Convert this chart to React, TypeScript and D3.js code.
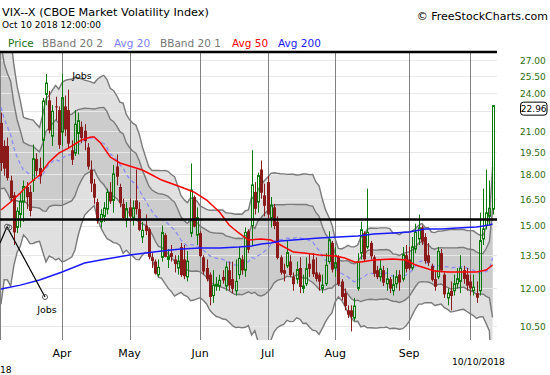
import React from 'react';
import * as d3 from 'd3';

// sessions shown: Mar 5 2018 .. Oct 10 2018 (US market holidays skipped)
const holidays = ['2018-03-30', '2018-05-28', '2018-07-04', '2018-09-03'];

// closes of the 19 sessions before the first visible candle (Feb 5 .. Mar 2), feed the 20-day bands
const priorCloses = [
  37.32, 29.98, 27.73, 33.46, 29.06, 25.61, 24.97, 19.26, 19.13, 19.46,
  20.6, 20.02, 18.72, 16.49, 15.8, 18.59, 19.85, 22.47, 19.59,
];

// [open, high, low, close]
const ohlc: [number, number, number, number][] = [
  // March
  [21.6, 22.4, 18.2, 18.73], [19.9, 20.3, 17.9, 18.36], [19.9, 20.5, 17.6, 17.76], [17.6, 17.9, 16.3, 16.54],
  [16.7, 16.9, 14.0, 14.64], [14.9, 16.0, 14.6, 15.78], [15.6, 16.9, 14.9, 16.35], [16.3, 17.6, 15.2, 17.23],
  [17.2, 17.5, 15.9, 16.59], [16.9, 17.3, 15.5, 15.8], [17.6, 20.0, 16.9, 19.02], [19.0, 19.4, 17.9, 18.2],
  [18.4, 19.1, 17.4, 17.86], [20.3, 23.6, 18.2, 23.34], [23.9, 25.7, 23.0, 24.87], [23.4, 24.2, 20.8, 21.03],
  [20.6, 23.0, 19.9, 22.5], [22.9, 23.7, 21.8, 22.87], [22.6, 22.9, 19.7, 19.97],
  // April
  [20.9, 25.7, 19.9, 23.62], [22.9, 23.8, 20.6, 21.1], [22.6, 24.3, 19.7, 20.06], [19.6, 20.3, 18.6, 18.94],
  [19.4, 22.6, 19.2, 21.49], [20.8, 22.4, 19.3, 21.77], [21.3, 21.7, 20.1, 20.47], [21.0, 21.5, 19.6, 20.24],
  [19.8, 20.1, 18.3, 18.49], [18.3, 18.9, 16.9, 17.41], [17.4, 17.7, 16.2, 16.56], [16.3, 16.5, 15.1, 15.25],
  [15.2, 15.9, 14.9, 15.6], [15.5, 16.3, 15.2, 15.96], [15.9, 17.1, 15.6, 16.88], [16.9, 17.5, 16.2, 16.34],
  [16.4, 18.6, 15.7, 18.02], [18.5, 19.3, 17.3, 17.84], [17.2, 17.4, 16.0, 16.24], [16.2, 16.5, 15.3, 15.41],
  [15.3, 16.3, 14.9, 15.93],
  // May
  [16.0, 16.5, 15.2, 15.49], [15.4, 16.4, 15.0, 15.97], [16.4, 18.3, 15.6, 15.9], [15.9, 16.3, 14.7, 14.77],
  [14.4, 15.2, 14.1, 14.75], [15.0, 15.6, 14.5, 14.71], [14.8, 14.9, 13.3, 13.42], [13.4, 13.6, 12.9, 13.23],
  [13.2, 13.3, 12.6, 12.65], [12.6, 13.3, 12.5, 12.93], [13.4, 15.0, 13.2, 14.63], [14.5, 14.6, 13.4, 13.42],
  [13.3, 13.8, 12.9, 13.43], [13.6, 14.0, 13.2, 13.42], [13.3, 13.5, 12.7, 13.08], [12.9, 13.5, 12.6, 13.22],
  [13.9, 14.1, 12.5, 12.58], [13.3, 14.0, 12.4, 12.53], [12.5, 13.7, 12.3, 13.22], [14.6, 18.7, 14.4, 17.02],
  [16.6, 16.7, 14.9, 14.94], [14.5, 16.0, 14.0, 15.43],
  // June
  [14.6, 14.7, 13.4, 13.46], [13.4, 13.5, 12.6, 12.74], [12.9, 13.3, 12.3, 12.4], [12.6, 12.7, 11.3, 11.64],
  [11.7, 12.8, 11.4, 12.13], [12.1, 12.5, 11.9, 12.18], [12.1, 12.6, 11.9, 12.35], [12.5, 12.8, 12.2, 12.34],
  [12.1, 13.2, 11.9, 12.94], [12.8, 13.2, 11.9, 12.12], [12.4, 13.2, 11.8, 11.98], [11.9, 13.3, 11.7, 12.31],
  [12.6, 13.9, 12.4, 13.35], [13.3, 13.5, 12.6, 12.79], [12.8, 14.9, 12.5, 14.64], [14.7, 14.8, 13.6, 13.77],
  [15.0, 19.6, 14.0, 17.33], [16.9, 17.5, 15.6, 15.92], [16.3, 18.1, 15.7, 17.91], [18.3, 18.9, 16.5, 16.85],
  [16.7, 17.4, 15.5, 16.09],
  // July
  [17.5, 17.9, 15.4, 15.6], [15.4, 16.6, 14.9, 16.14], [16.0, 16.2, 14.8, 14.97], [15.2, 15.5, 13.3, 13.37],
  [13.4, 13.5, 12.6, 12.69], [12.8, 13.1, 12.3, 12.64], [13.0, 14.2, 12.9, 13.63], [13.2, 13.5, 12.5, 12.58],
  [12.5, 12.7, 11.9, 12.18], [12.4, 13.2, 12.2, 12.83], [12.9, 13.4, 11.8, 12.06], [12.0, 12.6, 11.8, 12.1],
  [12.2, 13.4, 12.1, 12.87], [13.1, 13.6, 12.5, 12.86], [13.3, 13.6, 12.5, 12.62], [12.7, 13.4, 12.3, 12.41],
  [12.6, 12.7, 11.9, 12.29], [12.0, 12.6, 11.8, 12.14], [12.2, 13.6, 12.1, 13.03], [13.2, 14.7, 13.1, 14.26],
  [14.1, 14.2, 12.7, 12.83],
  // August
  [12.9, 13.9, 12.5, 13.15], [13.4, 13.5, 12.1, 12.19], [12.3, 12.4, 11.5, 11.64], [11.8, 12.0, 11.1, 11.27],
  [11.1, 11.3, 10.8, 10.93], [11.1, 11.3, 10.3, 10.85], [10.8, 11.6, 10.7, 11.27], [12.0, 13.6, 11.9, 13.16],
  [13.6, 15.2, 13.3, 14.78], [14.6, 14.7, 13.2, 13.31], [13.9, 17.1, 13.8, 14.64], [14.1, 14.2, 13.3, 13.45],
  [13.4, 13.5, 12.5, 12.64], [12.8, 13.0, 12.4, 12.49], [12.5, 13.3, 12.3, 12.86], [12.8, 13.0, 12.1, 12.25],
  [12.2, 12.9, 11.9, 12.41], [12.4, 12.5, 11.8, 11.99], [11.9, 12.6, 11.7, 12.16], [12.2, 12.8, 12.0, 12.5],
  [12.6, 12.8, 11.9, 12.25], [12.4, 13.9, 12.3, 13.53], [13.5, 14.0, 12.7, 12.86],
  // September
  [13.3, 13.9, 12.8, 12.88], [12.9, 14.4, 12.8, 13.91], [13.8, 15.1, 13.6, 14.65], [14.3, 15.6, 14.0, 14.88],
  [14.9, 15.0, 14.0, 14.16], [14.4, 14.6, 13.1, 13.22], [13.5, 14.1, 13.0, 13.14], [13.0, 13.1, 12.3, 12.37],
  [12.4, 12.8, 11.9, 12.07], [12.5, 13.9, 12.4, 13.68], [13.6, 13.8, 12.7, 12.79], [12.6, 12.7, 11.6, 11.75],
  [11.6, 12.0, 11.3, 11.8], [11.9, 12.3, 11.1, 11.68], [11.9, 12.6, 11.7, 12.2], [12.2, 12.9, 12.0, 12.42],
  [12.3, 13.5, 11.8, 12.89], [12.8, 13.0, 12.2, 12.41], [12.6, 12.9, 11.9, 12.12],
  // October
  [12.3, 12.6, 11.7, 12.0], [11.9, 12.6, 11.7, 12.05], [11.8, 12.3, 11.4, 11.61], [11.9, 15.7, 11.7, 14.22],
  [14.3, 17.1, 14.0, 14.82], [15.0, 18.3, 14.8, 15.69], [15.5, 17.6, 15.0, 15.95], [15.9, 23.0, 15.6, 22.96],
];

// 50-day and 200-day averages: [session index, value]
const avg50: [number, number][] = [
  [0, 15.85], [3, 16.31], [6, 16.84], [9, 17.45], [12, 17.95], [15, 18.8], [18, 19.4], [21, 19.75],
  [25, 20.32], [28, 20.54], [29, 20.54], [31, 20.11], [34, 19.13], [37, 18.73], [41, 18.47], [44, 18.27],
  [47, 17.95], [50, 17.63], [56, 17.2], [60, 16.9], [64, 16.42], [68, 15.74], [71, 15.03], [74, 14.61],
  [77, 14.25], [81, 14.3], [84, 14.25], [87, 14.0], [91, 13.65], [95, 13.6], [99, 13.51], [104, 13.46],
  [107, 13.37], [110, 13.18], [112, 13.18], [116, 13.27], [122, 13.32], [126, 13.27], [129, 13.04],
  [132, 12.9], [135, 12.76], [139, 12.72], [144, 12.72], [148, 12.72], [151, 12.81], [153, 13.04],
];
const avg200: [number, number][] = [
  [0, 11.97], [6, 12.14], [12, 12.36], [19, 12.72], [26, 13.13], [31, 13.27], [40, 13.51], [50, 13.7],
  [56, 13.8], [62, 13.85], [68, 13.85], [74, 13.9], [78, 13.95], [81, 14.05], [84, 14.1], [87, 14.2],
  [91, 14.25], [95, 14.3], [99, 14.35], [105, 14.4], [111, 14.45], [116, 14.56], [122, 14.61],
  [127, 14.66], [132, 14.82], [137, 14.82], [142, 14.87], [148, 14.92], [152, 15.03], [153, 15.08],
];

const yTicks = [10.5, 12, 13.5, 15, 16.5, 18, 19.5, 21, 22.5, 24, 25.5, 27];
const trendLines = [27.78, 15.32];
const legend = ['Price', 'BBand 20 2', 'Avg 20', 'BBand 20 1', 'Avg 50', 'Avg 200'];

const GREEN = '#087a08';
const RED = '#8b1a1a';
const legendColors = ['#1a701a', '#777', '#8080ff', '#777', '#ff0000', '#1a1aff'];
const legendX = [8, 42, 114, 160, 232, 278];

const fmtDay = d3.timeFormat('%Y-%m-%d');

const App = () => {
  const sessions = d3.timeDay
    .range(new Date(2018, 2, 5), new Date(2018, 9, 11))
    .filter((d) => d.getDay() !== 0 && d.getDay() !== 6 && !holidays.includes(fmtDay(d)));
  const n = ohlc.length;

  const x = d3.scaleLinear().domain([0, n - 1]).range([1, 492.6]);
  const y = d3.scaleLog().domain([27, 10.5]).range([60, 326]);

  // 20 day bollinger bands
  const all = [...priorCloses, ...ohlc.map((d) => d[3])];
  const bands = ohlc.map((_, i) => {
    const end = i + priorCloses.length;
    const win = all.slice(end - 19, end + 1);
    const m = d3.mean(win) as number;
    const sd = Math.sqrt(d3.mean(win, (v) => (v - m) ** 2) as number);
    return { i, m, sd };
  });

  const area = (k: number) =>
    d3.area<any>().x((d) => x(d.i)).y0((d) => y(d.m - k * d.sd)).y1((d) => y(d.m + k * d.sd))(bands) as string;
  const bandLine = (k: number) =>
    d3.line<any>().x((d) => x(d.i)).y((d) => y(Math.max(d.m + k * d.sd, 5)))(bands) as string;
  const avgLine = d3.line<[number, number]>().x((d) => x(d[0])).y((d) => y(d[1]));

  const monthStarts = sessions
    .map((d, i) => ({ d, i }))
    .filter(({ d, i }) => i > 0 && d.getMonth() !== sessions[i - 1].getMonth());

  const last = ohlc[n - 1][3];

  // "Jobs" annotations, in chart coordinates (session index, price)
  const noteA = [x(1.87), y(14.94)];
  const noteB = [x(2.6), y(14.9)];
  const noteEnd = [x(13.7), y(11.64)];
  const noteTail = [x(-0.31), y(14.1)];

  return (
    <svg
      width={550}
      height={375}
      style={{ position: 'absolute', left: 0, top: 0, background: '#fff' }}
      fontFamily="DejaVu Sans"
    >
      <defs>
        <clipPath id="plot">
          <rect x={0} y={52} width={497} height={288} />
        </clipPath>
      </defs>

      <text x={2} y={16} fontSize={11.3} fill="#000">VIX--X (CBOE Market Volatility Index)</text>
      <text x={2} y={28} fontSize={9} fill="#000">Oct 10 2018 12:00:00</text>
      <text x={548} y={20} fontSize={11} textAnchor="end" fill="#000">© FreeStockCharts.com</text>
      {legend.map((t, k) => (
        <text key={t} x={legendX[k]} y={46.5} fontSize={10.5} fill={legendColors[k]}>{t}</text>
      ))}

      <g clipPath="url(#plot)">
        <path d={area(2)} fill="#e0e0e0" />
        <path d={area(1)} fill="#cccccc" />
        {yTicks.map((t) => (
          <line key={t} x1={0} x2={497} y1={Math.round(y(t)) + 0.5} y2={Math.round(y(t)) + 0.5} stroke="#e8e8e8" />
        ))}
        <line x1={0.5} x2={0.5} y1={52} y2={340} stroke="#808080" />
        {monthStarts.map(({ i }) => (
          <line key={i} x1={Math.round(x(i)) + 0.5} x2={Math.round(x(i)) + 0.5} y1={52} y2={340} stroke="#808080" />
        ))}
        {[2, 1, -1, -2].map((k) => (
          <path key={k} d={bandLine(k)} fill="none" stroke="#7a7a7a" strokeWidth={1.4} />
        ))}
        <path
          d={d3.line<any>().x((d) => x(d.i)).y((d) => y(d.m))(bands) as string}
          fill="none"
          stroke="#8c8cf2"
          strokeWidth={1.3}
          strokeDasharray="4,3"
        />

        {ohlc.map(([o, h, l, c], i) => {
          const up = c >= o;
          const cx = Math.round(x(i)) + 0.5;
          const top = y(Math.max(o, c));
          const bot = y(Math.min(o, c));
          if (up) {
            return (
              <g key={i} stroke={GREEN}>
                <line x1={cx} x2={cx} y1={y(h)} y2={top} />
                <line x1={cx} x2={cx} y1={bot} y2={y(l)} />
                <rect x={cx - 1} y={top} width={2} height={Math.max(bot - top, 1)} fill="none" strokeWidth={1} />
              </g>
            );
          }
          return (
            <g key={i}>
              <line x1={cx} x2={cx} y1={y(h)} y2={y(l)} stroke={RED} />
              <rect x={cx - 1.5} y={top} width={3} height={Math.max(bot - top, 1)} fill={RED} />
            </g>
          );
        })}

        <path d={avgLine(avg50) as string} fill="none" stroke="#ff0000" strokeWidth={1.5} />
        <path d={avgLine(avg200) as string} fill="none" stroke="#1a1aff" strokeWidth={1.5} />
      </g>

      {trendLines.map((v) => (
        <line key={v} x1={0} x2={497} y1={y(v)} y2={y(v)} stroke="#000" strokeWidth={2.5} />
      ))}

      {/* annotations */}
      <text x={x(25.2)} y={y(25.24)} fontSize={9.5} textAnchor="middle" fill="#000">Jobs</text>
      <g fill="none" stroke="#000" strokeWidth={1.2}>
        <line x1={noteA[0]} y1={noteA[1]} x2={noteEnd[0]} y2={noteEnd[1]} />
        <line x1={noteA[0]} y1={noteA[1]} x2={noteTail[0]} y2={noteTail[1]} />
      </g>
      <g fill="none" stroke="#555" strokeWidth={1}>
        <circle cx={noteA[0]} cy={noteA[1]} r={2.5} />
        <circle cx={noteB[0]} cy={noteB[1]} r={2.5} />
        <circle cx={noteEnd[0]} cy={noteEnd[1]} r={2.5} />
      </g>
      <text x={noteEnd[0] + 2} y={noteEnd[1] + 16} fontSize={9.5} textAnchor="middle" fill="#000">Jobs</text>

      {/* price axis */}
      {yTicks.filter((t) => t !== 22.5).map((t) => (
        <text key={t} x={520} y={y(t) + 0.7} dy="0.35em" fontSize={9} fill="#2f6b12">{t.toFixed(2)}</text>
      ))}
      <rect x={520.5} y={y(last) - 3.5} width={26.5} height={13} rx={3} fill="#fff" stroke="#000" />
      <text x={533.7} y={y(last) + 3} dy="0.35em" fontSize={9} textAnchor="middle" fill="#000">{last.toFixed(2)}</text>

      {/* date axis */}
      {monthStarts.filter(({ d }) => d.getMonth() !== 9).map(({ d, i }) => (
        <text key={i} x={x(i)} y={357} fontSize={11} textAnchor="middle" fill="#000">{d3.timeFormat('%b')(d)}</text>
      ))}
      <text x={0} y={373} fontSize={9.2} fill="#000">{d3.timeFormat('%y')(sessions[0])}</text>
      <text x={452} y={365} fontSize={9.2} fill="#000">{d3.timeFormat('%m/%d/%Y')(sessions[n - 1])}</text>
    </svg>
  );
};

export default App;
